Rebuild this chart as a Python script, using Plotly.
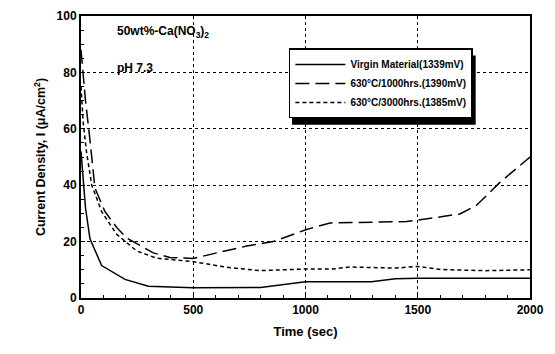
import plotly.graph_objects as go

# Data
t_virgin = [0, 20, 40, 92, 196, 300, 500, 800, 1000, 1294, 1400, 1500, 2000]
i_virgin = [52, 32, 21, 11.5, 6.6, 4.2, 3.6, 3.7, 5.8, 5.8, 6.8, 7.0, 7.0]

t_1000 = [0, 20, 40, 62, 107, 159, 203, 322, 396, 500, 604, 738, 856, 1005,
          1109, 1272, 1450, 1500, 1688, 1762, 1866, 2000]
i_1000 = [88, 70, 56, 39, 30.6, 25, 21.3, 16, 14.4, 14, 16, 18.4, 20, 24.3,
          26.6, 26.9, 27.1, 27.6, 29.8, 32.9, 41, 50]

t_3000 = [0, 10, 25, 48, 92, 159, 248, 337, 500, 649, 797, 1005, 1123, 1200,
          1400, 1500, 1600, 1800, 2000]
i_3000 = [75, 62, 51.5, 40, 30.6, 22.6, 16.7, 14.1, 12.9, 10.9, 9.7, 10.3,
          10.3, 11.0, 10.6, 11.2, 10.1, 9.7, 10.0]

names = ["Virgin Material(1339mV)", "630°C/1000hrs.(1390mV)",
         "630°C/3000hrs.(1385mV)"]

x_ticks = [0, 500, 1000, 1500, 2000]
y_ticks = [0, 20, 40, 60, 80, 100]

FONT = "Liberation Sans, Arial, sans-serif"

fig = go.Figure()
fig.add_trace(go.Scatter(x=t_virgin, y=i_virgin, mode="lines", name=names[0],
                         line=dict(color="black", width=1.5)))
fig.add_trace(go.Scatter(x=t_1000, y=i_1000, mode="lines", name=names[1],
                         line=dict(color="black", width=1.5, dash="14px,6px")))
fig.add_trace(go.Scatter(x=t_3000, y=i_3000, mode="lines", name=names[2],
                         line=dict(color="black", width=1.5, dash="4px,3px")))

axis_common = dict(
    showline=True, linecolor="black", linewidth=2, mirror=True,
    ticks="inside", ticklen=4, tickcolor="black", tickwidth=1,
    showgrid=True, gridcolor="black", griddash="dot", gridwidth=1,
    zeroline=False,
    tickfont=dict(family=FONT, size=12, color="black", weight="bold"),
)

fig.update_xaxes(range=[0, 2000], tickvals=x_ticks,
                 minor=dict(dtick=100, ticks="inside", ticklen=3, tickcolor="black", showgrid=False),
                 title=dict(text="Time (sec)", standoff=10,
                            font=dict(family=FONT, size=13, color="black", weight="bold")),
                 **axis_common)
fig.update_yaxes(range=[0, 100], tickvals=y_ticks,
                 minor=dict(dtick=5, ticks="inside", ticklen=3, tickcolor="black", showgrid=False),
                 title=dict(text="Current Density, I (μA/cm<sup>2</sup>)", standoff=8,
                            font=dict(family=FONT, size=12.5, color="black", weight="bold")),
                 **axis_common)

fig.add_annotation(x=0.075, y=0.945, xref="paper", yref="paper", xanchor="left", yanchor="middle",
                   text="50wt%-Ca(NO<sub>3</sub>)<sub>2</sub>", showarrow=False,
                   font=dict(family=FONT, size=12, color="black", weight=600))
fig.add_annotation(x=0.075, y=0.815, xref="paper", yref="paper", xanchor="left", yanchor="middle",
                   text="pH 7.3", showarrow=False,
                   font=dict(family=FONT, size=12, color="black", weight=600))

# legend drop shadow (small offset behind the legend box)
fig.add_shape(type="rect", xref="paper", yref="paper",
              x0=0.47, x1=0.879, y0=0.614, y1=0.86,
              fillcolor="black", line=dict(width=0), layer="above")

fig.update_layout(
    width=555, height=354,
    margin=dict(l=81, r=25, t=9, b=56),
    plot_bgcolor="white", paper_bgcolor="white",
    showlegend=True,
    legend=dict(x=0.463, y=0.885, xanchor="left", yanchor="top",
                bgcolor="white", bordercolor="black", borderwidth=1.5,
                font=dict(family=FONT, size=10, color="black", weight="bold"),
                tracegroupgap=2, itemwidth=50),
)

fig.write_html("out.html")
